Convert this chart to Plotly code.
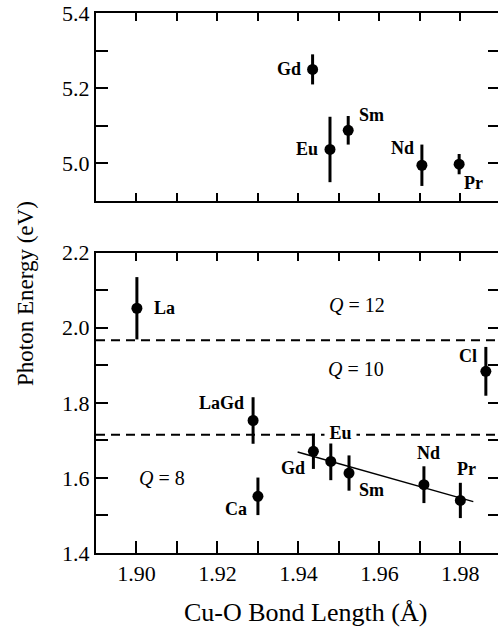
import plotly.graph_objects as go

# ---- data ----
top_names = ["Gd", "Eu", "Sm", "Nd", "Pr"]
top_x = [1.9435, 1.9478, 1.9523, 1.9705, 1.9797]
top_y = [5.250, 5.037, 5.088, 4.995, 4.998]
top_err = [0.040, 0.087, 0.038, 0.055, 0.027]

bot_names = ["La", "LaGd", "Ca", "Gd", "Eu", "Sm", "Nd", "Pr", "Cl"]
bot_x = [1.9001, 1.9288, 1.9300, 1.9437, 1.9480, 1.9525, 1.9710, 1.9800, 1.9863]
bot_y = [2.052, 1.753, 1.551, 1.671, 1.644, 1.613, 1.582, 1.540, 1.884]
bot_err = [0.083, 0.062, 0.050, 0.047, 0.050, 0.047, 0.049, 0.047, 0.065]

fit_x = [1.9398, 1.9832]
fit_y = [1.669, 1.537]

q_boundaries = [1.967, 1.715]
q_labels = ["Q = 12", "Q = 10", "Q = 8"]
q_label_x = [1.9544, 1.9542, 1.9064]
q_label_y = [2.061, 1.890, 1.600]

x_range = [1.89, 1.9893]
top_yrange = [4.9, 5.4]
bot_yrange = [1.4, 2.2]

# label placement styles (xanchor, xshift px, yshift px, white background)
top_lab_style = [("right", -10, 0, False), ("right", -10, 0, False),
                 ("left", 9, 15, False), ("right", -6, 17, False),
                 ("left", 3, -19, False)]
bot_lab_style = [("left", 15, 0, False), ("right", -7, 17, False),
                 ("right", -9, -13, False), ("right", -6, -17, False),
                 ("left", -2, 28, True), ("left", 8, -17, False),
                 ("center", 5, 32, False), ("center", 6, 31, False),
                 ("right", -7, 15, False)]

SERIF = "Liberation Serif"
BLACK = "black"

fig = go.Figure()

def pts(x, y, err, xa, ya):
    return go.Scatter(
        x=x, y=y, mode="markers", xaxis=xa, yaxis=ya,
        marker=dict(size=11, color=BLACK),
        error_y=dict(type="data", array=err, visible=True, thickness=3,
                     width=0, color=BLACK),
        showlegend=False, hoverinfo="skip")

# dashed Q boundaries
for yb in q_boundaries:
    fig.add_trace(go.Scatter(x=x_range, y=[yb, yb], mode="lines",
                             xaxis="x", yaxis="y",
                             line=dict(color=BLACK, width=2, dash="9px,6px"),
                             showlegend=False, hoverinfo="skip"))
# fit line
fig.add_trace(go.Scatter(x=fit_x, y=fit_y, mode="lines", xaxis="x", yaxis="y",
                         line=dict(color=BLACK, width=1.4),
                         showlegend=False, hoverinfo="skip"))
fig.add_trace(pts(bot_x, bot_y, bot_err, "x", "y"))
fig.add_trace(pts(top_x, top_y, top_err, "x2", "y2"))
# dummy traces to activate mirror axes
fig.add_trace(go.Scatter(x=[None], y=[None], xaxis="x3", yaxis="y3",
                         showlegend=False, hoverinfo="skip"))
fig.add_trace(go.Scatter(x=[None], y=[None], xaxis="x2", yaxis="y4",
                         showlegend=False, hoverinfo="skip"))

bot_dom = [0.0, 0.5561]
top_dom = [0.6519, 1.0]

tickfont = dict(family=SERIF, size=22, color=BLACK)
common = dict(showline=True, linecolor=BLACK, linewidth=2, ticks="inside",
              tickcolor=BLACK, tickwidth=1.6, showgrid=False, zeroline=False,
              tickfont=tickfont)

fig.update_layout(
    width=498, height=628,
    margin=dict(l=96, r=0, t=13, b=75),
    paper_bgcolor="white", plot_bgcolor="white",
    font=dict(family=SERIF, color=BLACK),
    xaxis=dict(common, range=x_range, domain=[0, 1], anchor="y",
               tick0=1.90, dtick=0.02, ticklen=12, tickformat=".2f",
               minor=dict(dtick=0.01, tick0=1.90, ticklen=12, ticks="inside",
                          tickcolor=BLACK, tickwidth=1.6)),
    xaxis3=dict(common, range=x_range, domain=[0, 1], anchor="y",
                overlaying="x", side="top", tick0=1.90, dtick=0.01,
                ticklen=8, showticklabels=False),
    yaxis=dict(common, range=bot_yrange, domain=bot_dom, anchor="x",
               tick0=1.4, dtick=0.2, ticklen=12, tickformat=".1f",
               minor=dict(dtick=0.1, tick0=1.4, ticklen=12, ticks="inside",
                          tickcolor=BLACK, tickwidth=1.6)),
    yaxis3=dict(common, range=bot_yrange, domain=bot_dom, anchor="x3",
                overlaying="y", side="right", tick0=1.4, dtick=0.1,
                ticklen=10, showticklabels=False, showline=False),
    xaxis2=dict(common, range=x_range, domain=[0, 1], anchor="y2",
                tick0=1.90, dtick=0.01, ticklen=8, mirror="ticks",
                showticklabels=False),
    yaxis2=dict(common, range=top_yrange, domain=top_dom, anchor="x2",
                tick0=5.0, dtick=0.2, ticklen=12, tickformat=".1f",
                minor=dict(dtick=0.1, tick0=5.0, ticklen=12, ticks="inside",
                           tickcolor=BLACK, tickwidth=1.6)),
    yaxis4=dict(common, range=top_yrange, domain=top_dom, anchor="x2",
                overlaying="y2", side="right", tick0=5.0, dtick=0.1,
                ticklen=10, showticklabels=False, showline=False),
)

ann = []
labfont = dict(family=SERIF, size=18, color=BLACK)
for n, x, y, (xa, xs, ys, bg) in zip(top_names, top_x, top_y, top_lab_style):
    ann.append(dict(x=x, y=y, xref="x2", yref="y2", text="<b>%s</b>" % n,
                    showarrow=False, xanchor=xa, yanchor="middle",
                    xshift=xs, yshift=ys, font=labfont))
for n, x, y, (xa, xs, ys, bg) in zip(bot_names, bot_x, bot_y, bot_lab_style):
    a = dict(x=x, y=y, xref="x", yref="y", text="<b>%s</b>" % n,
             showarrow=False, xanchor=xa, yanchor="middle",
             xshift=xs, yshift=ys, font=labfont)
    if bg:
        a.update(bgcolor="white", borderpad=0, xshift=xs - 5,
                 text="&nbsp;<b>%s</b>&nbsp;" % n)
    ann.append(a)
for t, x, y in zip(q_labels, q_label_x, q_label_y):
    q, rest = t.split(" ", 1)
    ann.append(dict(x=x, y=y, xref="x", yref="y",
                    text="<i>%s</i> %s" % (q, rest), showarrow=False,
                    xanchor="center", yanchor="middle",
                    font=dict(family=SERIF, size=20, color=BLACK)))
ann.append(dict(x=0.522, y=-0.111, xref="paper", yref="paper",
                text="Cu-O Bond Length (Å)", showarrow=False,
                xanchor="center", yanchor="middle",
                font=dict(family=SERIF, size=26, color=BLACK)))
ann.append(dict(x=-0.1766, y=0.4796, xref="paper", yref="paper",
                text="Photon Energy (eV)", showarrow=False, textangle=-90,
                xanchor="center", yanchor="middle",
                font=dict(family=SERIF, size=23, color=BLACK)))
fig.update_layout(annotations=ann)

fig.write_html("out.html",
               config={"displayModeBar": False},
               post_script="document.body.style.margin='0';"
                           "document.body.style.overflow='hidden';")
